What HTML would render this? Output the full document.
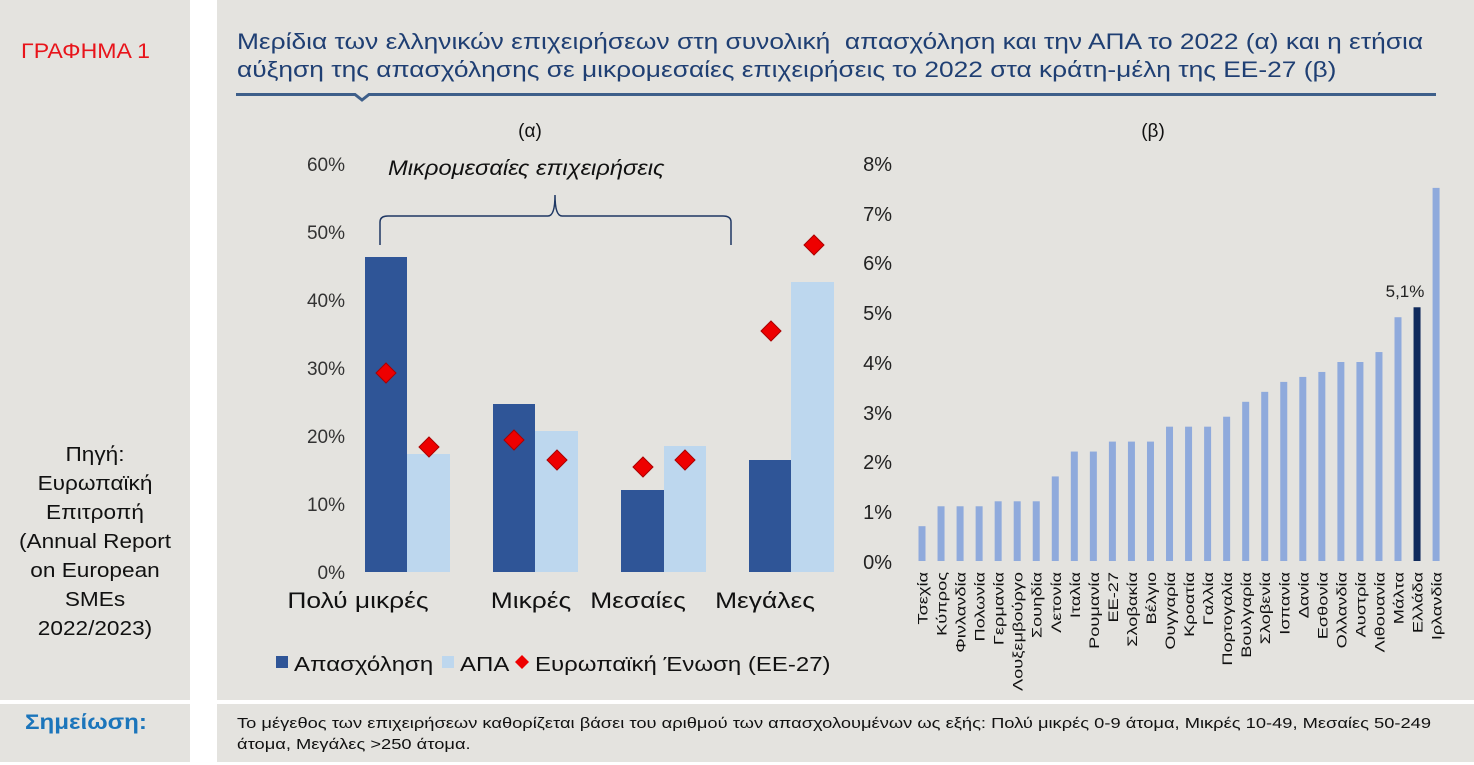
<!DOCTYPE html>
<html><head><meta charset="utf-8"><style>
body{margin:0;width:1474px;height:765px;background:#fff;position:relative;overflow:hidden;font-family:"Liberation Sans","DejaVu Sans",sans-serif}
.p{position:absolute;background:#e4e3df}
.t{position:absolute;white-space:nowrap}
</style></head><body>
<div class="p" style="left:0;top:0;width:190px;height:700px"></div>
<div class="p" style="left:217px;top:0;width:1257px;height:700px"></div>
<div class="p" style="left:0;top:704px;width:190px;height:58px"></div>
<div class="p" style="left:217px;top:704px;width:1257px;height:58px"></div>
<div class="t" style="left:21px;top:40px;font-size:21px;color:#e8141b;transform:scaleX(1.1);transform-origin:left">ΓΡΑΦΗΜΑ 1</div>
<div class="t" style="left:-10px;width:210px;top:441px;font-size:20px;line-height:29px;text-align:center;white-space:normal;color:#111;transform:scaleX(1.13)">Πηγή:<br>Ευρωπαϊκή<br>Επιτροπή<br>(Annual Report<br>on European<br>SMEs<br>2022/2023)</div>
<div class="t" style="left:25px;top:711px;font-size:21px;font-weight:bold;color:#1b75bb;transform:scaleX(1.15);transform-origin:left">Σημείωση:</div>
<div class="t" style="left:237px;top:713px;font-size:15px;line-height:21px;color:#111;transform:scaleX(1.22);transform-origin:left">Το μέγεθος των επιχειρήσεων καθορίζεται βάσει του αριθμού των απασχολουμένων ως εξής: Πολύ μικρές 0-9 άτομα, Μικρές 10-49, Μεσαίες 50-249<br>άτομα, Μεγάλες &gt;250 άτομα.</div>
<div class="t" style="left:237px;top:28px;font-size:22.5px;line-height:28px;color:#1f3f73;transform:scaleX(1.17);transform-origin:left">Μερίδια των ελληνικών επιχειρήσεων στη συνολική&nbsp; απασχόληση και την ΑΠΑ το 2022 (α) και η ετήσια<br>αύξηση της απασχόλησης σε μικρομεσαίες επιχειρήσεις το 2022 στα κράτη-μέλη της ΕΕ-27 (β)</div>
<svg style="position:absolute;left:0;top:0" width="1474" height="765" font-family="Liberation Sans, DejaVu Sans, sans-serif">
<path d="M236 94.5H355L362 100L369 94.5H1436" stroke="#3e5f8a" stroke-width="3" fill="none"/>
<text x="530" y="137" font-size="19" text-anchor="middle" fill="#111">(α)</text>
<text x="1153" y="137" font-size="19" text-anchor="middle" fill="#111">(β)</text>
<g font-size="19" fill="#333" text-anchor="end">
<text x="345" y="579">0%</text><text x="345" y="511">10%</text><text x="345" y="443">20%</text><text x="345" y="375">30%</text><text x="345" y="307">40%</text><text x="345" y="239">50%</text><text x="345" y="171">60%</text></g>
<g fill="#2f5597">
<rect x="365" y="257" width="42" height="315"/><rect x="493" y="404" width="42" height="168"/><rect x="621" y="490" width="43" height="82"/><rect x="749" y="460" width="42" height="112"/></g>
<g fill="#bdd7ee">
<rect x="407" y="454" width="43" height="118"/><rect x="535" y="431" width="43" height="141"/><rect x="664" y="446" width="42" height="126"/><rect x="791" y="282" width="43" height="290"/></g>
<g fill="#e00" stroke="#a00" stroke-width="1">
<path d="M386 363l10 10-10 10-10-10z"/><path d="M429 437l10 10-10 10-10-10z"/><path d="M514 430l10 10-10 10-10-10z"/><path d="M557 450l10 10-10 10-10-10z"/><path d="M643 457l10 10-10 10-10-10z"/><path d="M685 450l10 10-10 10-10-10z"/><path d="M771 321l10 10-10 10-10-10z"/><path d="M814 235l10 10-10 10-10-10z"/></g>
<path d="M380 245V222Q380 216 388 216H548Q555 216 555 195Q555 216 562 216H723Q731 216 731 222V245" stroke="#1f3864" stroke-width="1.5" fill="none"/>
<text transform="translate(388,175) scale(1.13,1)" font-size="21" font-style="italic" fill="#111">Μικρομεσαίες επιχειρήσεις</text>
<g font-size="22" fill="#111" text-anchor="middle">
<text transform="translate(358,608) scale(1.2,1)">Πολύ μικρές</text><text transform="translate(531,608) scale(1.2,1)">Μικρές</text><text transform="translate(638,608) scale(1.2,1)">Μεσαίες</text><text transform="translate(765,608) scale(1.2,1)">Μεγάλες</text></g>
<rect x="276" y="656" width="12" height="12" fill="#2f5597"/><text transform="translate(294,671) scale(1.2,1)" font-size="20" fill="#111">Απασχόληση</text>
<rect x="442" y="656" width="12" height="12" fill="#bdd7ee"/><text transform="translate(460,671) scale(1.2,1)" font-size="20" fill="#111">ΑΠΑ</text>
<path d="M522 655l7 7-7 7-7-7z" fill="#e00"/><text transform="translate(535,671) scale(1.2,1)" font-size="20" fill="#111">Ευρωπαϊκή Ένωση (ΕΕ-27)</text>
<g font-size="20" fill="#222" text-anchor="end">
<text x="892" y="569">0%</text><text x="892" y="519">1%</text><text x="892" y="469">2%</text><text x="892" y="420">3%</text><text x="892" y="370">4%</text><text x="892" y="320">5%</text><text x="892" y="270">6%</text><text x="892" y="221">7%</text><text x="892" y="171">8%</text></g>
<g id="bars"></g>
<text x="1405" y="297" font-size="17" text-anchor="middle" fill="#222">5,1%</text>
</svg>
<script>
var v=[0.7,1.1,1.1,1.1,1.2,1.2,1.2,1.7,2.2,2.2,2.4,2.4,2.4,2.7,2.7,2.7,2.9,3.2,3.4,3.6,3.7,3.8,4.0,4.0,4.2,4.9,5.1,7.5];
var n=["Τσεχία","Κύπρος","Φινλανδία","Πολωνία","Γερμανία","Λουξεμβούργο","Σουηδία","Λετονία","Ιταλία","Ρουμανία","ΕΕ-27","Σλοβακία","Βέλγιο","Ουγγαρία","Κροατία","Γαλλία","Πορτογαλία","Βουλγαρία","Σλοβενία","Ισπανία","Δανία","Εσθονία","Ολλανδία","Αυστρία","Λιθουανία","Μάλτα","Ελλάδα","Ιρλανδία"];
var s="";for(var i=0;i<28;i++){var x=922+i*19.04,h=v[i]*49.75;
s+='<rect x="'+(x-3.5)+'" y="'+(561-h)+'" width="7" height="'+h+'" fill="'+(i==26?'#102a5c':'#8faadc')+'"/>';
s+='<text transform="translate('+(x+5.5)+',572) rotate(-90) scale(1.3,1)" font-size="14" text-anchor="end" fill="#111">'+n[i]+'</text>';}
document.getElementById("bars").innerHTML=s;
</script>
</body></html>
